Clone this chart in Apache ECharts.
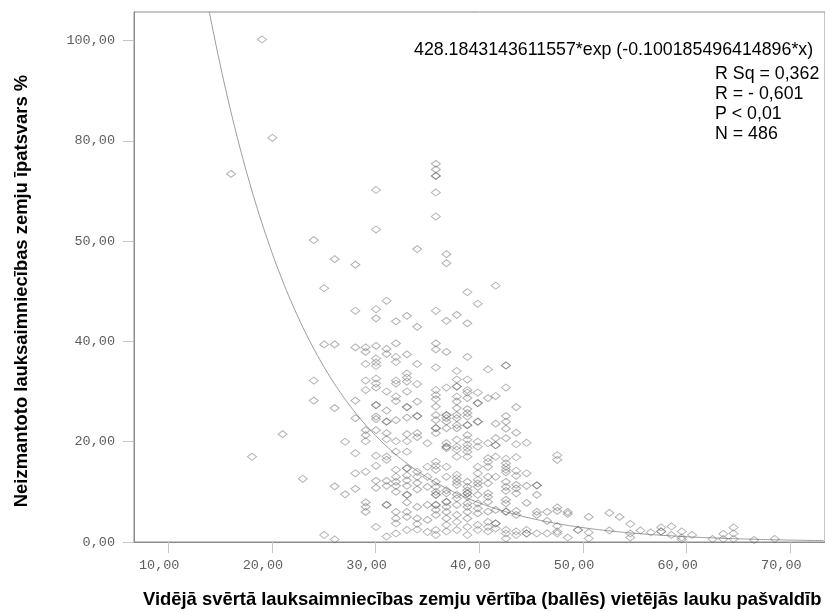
<!DOCTYPE html>
<html>
<head>
<meta charset="utf-8">
<script src="https://cdn.jsdelivr.net/npm/echarts@6.0.0/dist/echarts.min.js"></script>
<style>
  html, body { margin: 0; padding: 0; background: #ffffff; }
  #chart { width: 825px; height: 612px; }
</style>
</head>
<body>
<div id="chart"></div>
<script>
// Average weighted agricultural land value (points) per rural municipality,
// grouped into columns of equal score; each column lists the share of unused land (%).
const scoreColumns = [
  16.06, 18.08, 19.04, 20.04, 21.03, 22.98, 24.04, 25.04, 26.05, 27.06,
  28.05, 29.04, 30.04, 31.06, 31.96, 33.02, 34.01, 35.0, 35.81, 36.83,
  37.83, 38.85, 39.85, 40.84, 41.58, 42.57, 43.56, 44.56, 45.55, 46.54,
  47.52, 48.53, 49.52, 50.55, 52.54, 53.53, 54.56, 55.55, 56.54, 57.54,
  58.53, 59.52, 60.52, 62.5, 63.53, 64.52, 66.51, 68.5
];
const unusedShare = [
  [73.4],
  [17.0],
  [100.2],
  [80.6],
  [21.5],
  [12.6],
  [60.2, 32.2, 28.2],
  [50.6, 39.4, 1.4],
  [56.4, 39.4, 26.7, 11.1, 0.5],
  [20.0, 9.5],
  [55.3, 46.1, 38.8, 28.2, 24.7, 17.7, 13.7, 10.6],
  [38.8, 37.9, 35.5, 32.2, 30.3, 22.3, 21.3, 20.1, 14.0, 7.9, 7.0, 6.0],
  [70.2, 62.3, 46.4, 44.6, 39.1, 36.6, 35.8, 35.1, 32.6, 31.6, 30.8, 27.3, 27.3, 25.0, 24.5, 22.3, 17.2, 15.2, 12.2, 10.8, 3.0],
  [48.1, 38.5, 37.5, 30.0, 26.2, 24.0, 24.0, 21.7, 20.5, 17.0, 16.4, 12.2, 11.2, 7.4, 7.4, 1.1],
  [44.0, 39.6, 36.9, 35.9, 32.2, 31.6, 29.0, 28.1, 24.3, 20.1, 18.0, 14.4, 13.0, 12.0, 11.2, 10.0, 6.0, 4.7, 3.7, 1.7],
  [45.1, 37.4, 33.6, 32.8, 32.0, 30.0, 26.9, 26.9, 24.8, 21.5, 20.1, 18.0, 14.7, 14.7, 13.3, 12.3, 11.2, 9.4, 9.4, 7.9, 6.0, 5.0, 2.4],
  [58.4, 42.9, 35.5, 31.5, 28.0, 25.1, 25.1, 21.7, 20.9, 14.0, 13.0, 11.8, 10.5, 7.0, 4.7, 3.6, 2.5],
  [19.7, 15.0, 13.0, 11.0, 7.4, 4.4, 2.0],
  [75.4, 74.3, 73.0, 73.0, 69.7, 64.9, 46.1, 39.6, 38.4, 34.8, 30.3, 29.3, 28.5, 27.0, 25.3, 24.3, 22.7, 22.7, 21.7, 16.0, 15.2, 14.4, 12.0, 11.0, 10.0, 9.4, 9.4, 7.4, 7.4, 6.4, 5.4, 2.4, 1.4],
  [57.4, 55.6, 44.1, 37.9, 30.8, 25.3, 25.3, 24.7, 24.0, 22.7, 19.7, 19.0, 19.0, 18.7, 15.0, 13.0, 10.3, 9.7, 8.0, 8.0, 7.0, 6.0, 4.7, 3.4, 2.1],
  [45.3, 34.1, 32.4, 31.0, 31.0, 29.0, 28.0, 26.7, 25.3, 24.7, 23.3, 22.7, 20.4, 19.0, 18.4, 17.0, 13.4, 12.7, 12.0, 11.4, 9.4, 8.7, 7.4, 5.4, 4.0, 2.4],
  [49.8, 43.6, 36.9, 32.4, 30.3, 29.8, 28.7, 26.5, 25.7, 25.0, 23.3, 23.3, 21.3, 20.4, 19.4, 18.7, 18.0, 17.0, 12.0, 11.0, 10.3, 9.7, 9.7, 9.0, 7.7, 7.0, 6.0, 4.7, 3.0, 1.4],
  [47.5, 29.8, 27.7, 27.7, 24.0, 24.0, 20.0, 19.0, 15.0, 13.7, 12.4, 11.7, 11.0, 9.4, 7.7, 6.7, 5.7, 3.4, 2.4],
  [34.4, 28.7, 19.7, 16.7, 16.0, 15.0, 13.0, 11.7, 9.7, 9.0, 8.0, 6.05, 4.0, 3.0, 2.1],
  [51.1, 29.1, 23.6, 20.7, 19.3, 19.3, 17.0, 13.0, 6.4, 3.7, 3.7, 2.7],
  [35.2, 35.2, 30.8, 25.1, 24.0, 22.6, 20.7, 16.6, 15.7, 15.0, 14.4, 13.9, 12.0, 11.0, 10.2, 8.4, 7.7, 6.05, 6.05, 2.4, 1.7, 0.7],
  [26.9, 21.8, 19.5, 16.9, 14.2, 13.2, 11.4, 10.7, 9.7, 6.2, 5.4, 2.1, 1.4],
  [19.8, 13.7, 11.2, 7.8, 2.4, 1.7, 1.7],
  [11.3, 11.3, 9.4, 6.0, 5.4, 1.7],
  [6.0, 4.2, 1.7],
  [17.3, 16.4, 6.9, 6.2, 3.2, 2.1, 1.7],
  [6.0, 5.6, 0.9],
  [2.4, 2.4],
  [5.0, 1.9, 0.7],
  [5.8, 2.3],
  [5.0],
  [3.6, 1.7, 0.9],
  [2.3],
  [1.9],
  [2.9, 2.1, 2.1],
  [3.1, 1.4],
  [2.1, 0.9, 0.5],
  [1.4],
  [0.6],
  [1.6, 0.6],
  [2.9, 1.7, 0.6],
  [0.4],
  [0.6]
];

// Tick positions and their printed labels
const xTickValues = [10, 20, 30, 40, 50, 60, 70];
const xTickLabels = ['10,00', '20,00', '30,00', '40,00', '50,00', '60,00', '70,00'];
const yTickValues = [0, 20, 40, 60, 80, 100];
const yTickLabels = ['0,00', '20,00', '40,00', '50,00', '80,00', '100,00'];

// Exponential fit printed on the chart
const fitA = 428.1843143611557;
const fitB = -0.100185496414896;
const fitText = '428.1843143611557*exp (-0.100185496414896*x)';
const statLines = ['R Sq = 0,362', 'R = - 0,601', 'P < 0,01', 'N = 486'];

const xTitle = 'Vidējā svērtā lauksaimniecības zemju vērtība (ballēs) vietējās lauku pašvaldīb';
const yTitle = 'Neizmantoto lauksaimniecības zemju īpatsvars %';

const points = [];
scoreColumns.forEach((x, i) => {
  unusedShare[i].forEach(y => points.push([x, y]));
});

const X_MIN = 6.70, X_MAX = 73.34, Y_MIN = 0, Y_MAX = 105.68;

const curve = [];
for (let x = 13.0; x <= X_MAX + 0.01; x += 0.2) {
  curve.push([x, fitA * Math.exp(fitB * x)]);
}

const chart = echarts.init(document.getElementById('chart'), null, { renderer: 'canvas' });

const tickFont = { fontFamily: 'Liberation Mono, DejaVu Sans Mono, monospace', fontSize: 13.5, color: '#5e5e5e' };

chart.setOption({
  animation: false,
  backgroundColor: '#ffffff',
  grid: {
    left: 134, right: -2, top: 12, bottom: 70,
    show: true, borderColor: '#8c8c8c', borderWidth: 1, backgroundColor: 'transparent'
  },
  xAxis: {
    type: 'value',
    min: X_MIN, max: X_MAX,
    axisLine: { show: true, onZero: false, lineStyle: { color: '#8c8c8c', width: 1 } },
    axisTick: { show: true, length: 11, customValues: xTickValues, lineStyle: { color: '#c4c4c4' } },
    axisLabel: {
      customValues: xTickValues,
      formatter: v => xTickLabels[xTickValues.indexOf(Math.round(v))],
      margin: 16, padding: [0, 18, 0, 0],
      ...tickFont
    },
    splitLine: { show: false }
  },
  yAxis: {
    type: 'value',
    min: Y_MIN, max: Y_MAX,
    axisLine: { show: true, onZero: false, lineStyle: { color: '#8c8c8c', width: 1 } },
    axisTick: { show: true, length: 11, customValues: yTickValues, lineStyle: { color: '#c4c4c4' } },
    axisLabel: {
      customValues: yTickValues,
      formatter: v => yTickLabels[yTickValues.indexOf(Math.round(v))],
      margin: 19,
      ...tickFont
    },
    splitLine: { show: false }
  },
  series: [
    {
      type: 'line',
      data: curve,
      showSymbol: false,
      smooth: false,
      clip: true,
      silent: true,
      z: 1,
      lineStyle: { color: '#9c9c9c', width: 1 }
    },
    {
      type: 'scatter',
      data: points,
      symbol: 'diamond',
      symbolSize: [9, 7],
      silent: true,
      z: 2,
      itemStyle: { color: 'rgba(255,255,255,0)', borderColor: 'rgba(95,95,95,0.6)', borderWidth: 1 }
    }
  ],
  graphic: [
    {
      type: 'text', left: 414, top: 41,
      style: { text: fitText, font: '17.8px "Liberation Sans", Arial, sans-serif', fill: '#000000' }
    },
    {
      type: 'text', left: 715, top: 64,
      style: {
        text: statLines.join('\n'), font: '17.8px "Liberation Sans", Arial, sans-serif',
        lineHeight: 20, fill: '#000000'
      }
    },
    {
      type: 'text', x: 22, y: 291, rotation: Math.PI / 2,
      style: {
        text: yTitle, font: 'bold 18.4px "Liberation Sans", Arial, sans-serif',
        fill: '#000000', align: 'center', verticalAlign: 'middle'
      }
    },
    {
      type: 'text', x: 143, y: 600,
      style: {
        text: xTitle, font: 'bold 18.4px "Liberation Sans", Arial, sans-serif',
        fill: '#000000', align: 'left', verticalAlign: 'middle'
      }
    }
  ]
});
</script>
</body>
</html>
